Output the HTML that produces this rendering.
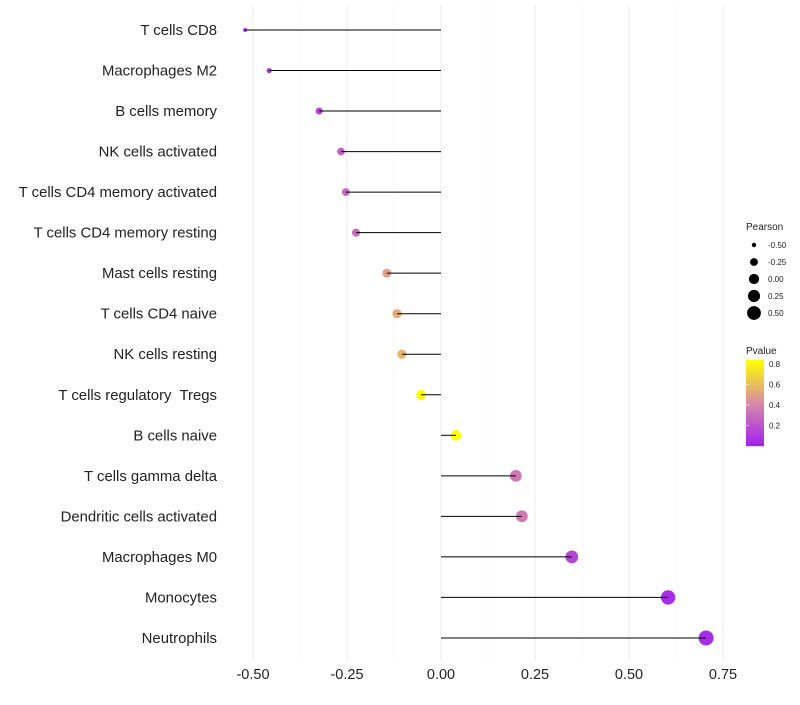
<!DOCTYPE html>
<html><head><meta charset="utf-8"><style>
body{margin:0;background:#fff;}
svg text{font-family:"Liberation Sans",sans-serif;}
</style></head><body>
<svg id="chart" width="800" height="700" xmlns="http://www.w3.org/2000/svg">
<g id="grid"></g>
<g id="marks"></g>
<g id="ylab"></g>
<g id="xlab"></g>
<g id="legend"></g>
</svg>
<script>
const categories=["T cells CD8","Macrophages M2","B cells memory","NK cells activated","T cells CD4 memory activated","T cells CD4 memory resting","Mast cells resting","T cells CD4 naive","NK cells resting","T cells regulatory  Tregs","B cells naive","T cells gamma delta","Dendritic cells activated","Macrophages M0","Monocytes","Neutrophils"];
const pearson=[-0.521,-0.457,-0.324,-0.266,-0.253,-0.226,-0.144,-0.117,-0.104,-0.053,0.040,0.199,0.215,0.348,0.604,0.705];
const pvalue=[0.05,0.08,0.15,0.25,0.28,0.3,0.5,0.55,0.58,0.85,0.88,0.35,0.35,0.15,0.05,0.05];
const xTicks=[-0.5,-0.25,0,0.25,0.5,0.75];
const xTickLabels=["-0.50","-0.25","0.00","0.25","0.50","0.75"];
const sizeLegend=[-0.5,-0.25,0,0.25,0.5];
const sizeLegendLabels=["-0.50","-0.25","0.00","0.25","0.50"];
const pLegend=[0.2,0.4,0.6,0.8];

const NS="http://www.w3.org/2000/svg";
const x=v=>441+v*376;
const y=i=>30+i*40.53;
const rad=v=>Math.sqrt(Math.max(2,4+(v+0.52)*42.6));
function lerp(a,b,t){return a.map((c,i)=>Math.round(c+(b[i]-c)*t));}
function col(p){const t=Math.max(0,Math.min(1,(p-0.0)/0.84));
 const a=[160,32,240],m=[216,138,168],b=[255,255,0];
 const c=t<0.5?lerp(a,m,t/0.5):lerp(m,b,(t-0.5)/0.5);return `rgb(${c})`;}
const py=p=>446-(p-0.0)/0.84*86;
function mk(tag,attrs,parent,text){const e=document.createElementNS(NS,tag);for(const k in attrs)e.setAttribute(k,attrs[k]);if(text!==undefined)e.textContent=text;parent.appendChild(e);return e;}
const grid=document.getElementById('grid'),marks=document.getElementById('marks'),ylab=document.getElementById('ylab'),xlab=document.getElementById('xlab'),leg=document.getElementById('legend');
for(let v=-0.5;v<=0.751;v+=0.125){const major=Math.abs(v/0.25-Math.round(v/0.25))<0.01;
 const g=mk('line',{x1:x(v),x2:x(v),y1:5,y2:660,stroke:major?'#ededed':'#f4f4f4','stroke-width':major?1.1:0.6},grid);
 }
xTicks.forEach((v,i)=>{const t=mk('text',{x:x(v),y:679,'text-anchor':'middle','font-size':14.5,fill:'#222'},xlab,xTickLabels[i]);
 });
categories.forEach((c,i)=>{
 const t=mk('text',{x:217,y:y(i)+5,'text-anchor':'end','font-size':14.9,fill:'#222',style:'white-space:pre'},ylab,c);
 
 const d=mk('circle',{cx:x(pearson[i]),cy:y(i),r:rad(pearson[i]),fill:col(pvalue[i])},marks);
 
 const l=mk('line',{x1:x(0),x2:x(pearson[i]),y1:y(i),y2:y(i),stroke:'#000','stroke-width':1},marks);
 
});
let t=mk('text',{x:746,y:230,'font-size':10,fill:'#222'},leg,'Pearson');

sizeLegend.forEach((v,i)=>{const yy=245+i*17;
 const c=mk('circle',{cx:754,cy:yy,r:rad(v),fill:'#000'},leg);
 const tt=mk('text',{x:768,y:yy+3,'font-size':8,fill:'#222'},leg,sizeLegendLabels[i]);});
t=mk('text',{x:746,y:354,'font-size':10,fill:'#222'},leg,'Pvalue');

for(let k=0;k<86;k++){const p=(446-(360+k))/86*0.84;const r=mk('rect',{x:746,y:360+k,width:18,height:1.2,fill:col(p)},leg);
 }
pLegend.forEach(p=>{const tt=mk('text',{x:769,y:py(p)+3,'font-size':8,fill:'#222'},leg,p.toFixed(1));
 
 const tk=mk('line',{x1:746,x2:749,y1:py(p),y2:py(p),stroke:'#fff','stroke-width':0.6},leg);});
</script>
</body></html>
